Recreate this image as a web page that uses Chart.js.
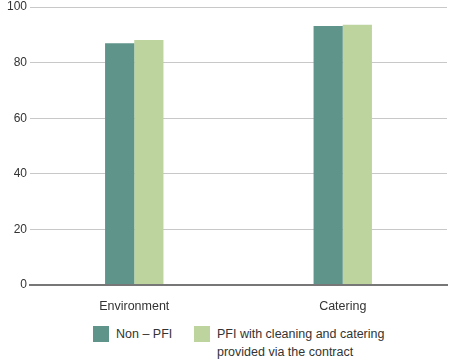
<!DOCTYPE html>
<html>
<head>
<meta charset="utf-8">
<script src="https://cdn.jsdelivr.net/npm/chart.js@4"></script>
<style>
    body { margin: 0; background: #fff; font-family: "Liberation Sans", Arial, sans-serif; }
    #wrap { position: relative; width: 450px; height: 360px; }
    #box { position: absolute; left: 0; top: 0; width: 450px; height: 320px; }
    .legend { position: absolute; top: 325px; font-size: 12.5px; color: #333; line-height: 18px; }
    .swatch { position: absolute; width: 16px; height: 16px; top: 1px; }
    .lbl { position: absolute; top: 0; white-space: nowrap; }
</style>
</head>
<body>
<div id="wrap">
    <div id="box"><canvas id="chart"></canvas></div>
    <div class="legend" id="legend"></div>
</div>
<script>
const categories = ['Environment', 'Catering'];
const seriesNames = ['Non \u2013 PFI', 'PFI with cleaning and catering|provided via the contract'];
const nonPfi = [87, 93.2];
const pfiContract = [88.1, 93.6];
const yTicks = [0, 20, 40, 60, 80, 100];
const colors = ['#5f948a', '#bdd49f'];

document.addEventListener('DOMContentLoaded', () => {
    const ctx = document.getElementById('chart');
    new Chart(ctx, {
        type: 'bar',
        data: {
            labels: categories,
            datasets: [
                { label: seriesNames[0], data: nonPfi, backgroundColor: colors[0] },
                { label: seriesNames[1], data: pfiContract, backgroundColor: colors[1] }
            ]
        },
        options: {
            responsive: true,
            maintainAspectRatio: false,
            animation: false,
            layout: { padding: { top: 7, right: 3, left: 0, bottom: 0 } },
            datasets: { bar: { categoryPercentage: 0.28, barPercentage: 1 } },
            plugins: { legend: { display: false }, tooltip: { enabled: false } },
            scales: {
                x: {
                    grid: { display: false },
                    border: { color: '#777', width: 2 },
                    ticks: { color: '#333', font: { family: 'Liberation Sans', size: 12.5 }, padding: 6 },
                    afterFit: (s) => { s.height = 35; }
                },
                y: {
                    min: yTicks[0],
                    max: yTicks[yTicks.length - 1],
                    afterBuildTicks: (s) => { s.ticks = yTicks.map(v => ({ value: v })); },
                    border: { display: false },
                    grid: {
                        drawTicks: false,
                        color: (c) => c.tick && c.tick.value === 0 ? '#777' : '#c8c8c8',
                        lineWidth: (c) => c.tick && c.tick.value === 0 ? 2 : 1
                    },
                    ticks: { color: '#333', font: { family: 'Liberation Sans', size: 12, lineHeight: 0.6 }, padding: 3 },
                    afterFit: (s) => { s.width = 30; }
                }
            }
        }
    });

    // HTML legend so the long label can wrap onto two lines
    const legend = document.getElementById('legend');
    const spots = [{ box: 93, text: 116 }, { box: 194, text: 217 }];
    seriesNames.forEach((name, i) => {
        const sw = document.createElement('div');
        sw.className = 'swatch';
        sw.style.left = spots[i].box + 'px';
        sw.style.background = colors[i];
        legend.appendChild(sw);
        const lb = document.createElement('div');
        lb.className = 'lbl';
        lb.style.left = spots[i].text + 'px';
        lb.innerHTML = name.split('|').join('<br>');
        legend.appendChild(lb);
    });
});
</script>
</body>
</html>
